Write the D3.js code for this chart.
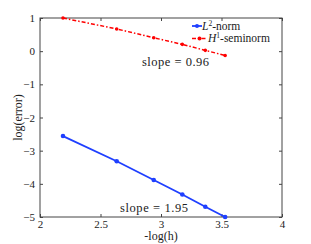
<!DOCTYPE html>
<html>
<head>
<meta charset="utf-8">
<script src="https://cdn.jsdelivr.net/npm/d3@7"></script>
<style>
  body { margin: 0; background: #fff; }
  svg text { font-family: 'Liberation Serif', 'Times New Roman', 'DejaVu Serif', serif !important; }
</style>
</head>
<body>
<div class="chart"></div>
<script>
const xTicks = [2, 2.5, 3, 3.5, 4];
const yTicks = [-5, -4, -3, -2, -1, 0, 1];
const hValues = [2.19, 2.634, 2.94, 3.176, 3.366, 3.53];
const l2Values = [-2.56, -3.32, -3.885, -4.32, -4.69, -5.0];
const h1Values = [1.0, 0.67, 0.405, 0.205, 0.024, -0.13];
const seriesNames = ['L2', 'H1'];

const width = 311, height = 244;
const plotLeft = 40, plotRight = 282, plotTop = 18, plotBottom = 217;

const svg = d3.select('div.chart').append('svg').attr('width', width).attr('height', height);

const x = d3.scaleLinear().domain([2, 4]).range([plotLeft, plotRight]);
const y = d3.scaleLinear().domain([-5, 1]).range([plotBottom, plotTop]);

const axisColor = '#444';
const tickLen = 3;

// frame
svg.append('rect')
    .attr('x', plotLeft).attr('y', plotTop)
    .attr('width', plotRight - plotLeft).attr('height', plotBottom - plotTop)
    .attr('fill', 'none').attr('stroke', axisColor).attr('stroke-width', 1);

const styleAxis = g => {
    g.attr('font-family', null);
    g.select('.domain').remove();
    g.selectAll('line').attr('stroke', axisColor);
    g.selectAll('text').attr('font-size', 11).attr('fill', '#222');
};

svg.append('g').attr('transform', `translate(0,${plotBottom})`)
    .call(d3.axisBottom(x).tickValues(xTicks).tickFormat(d3.format('')).tickSizeInner(-tickLen).tickPadding(3))
    .call(styleAxis);
svg.append('g').attr('transform', `translate(0,${plotTop})`)
    .call(d3.axisTop(x).tickValues(xTicks).tickFormat('').tickSizeInner(-tickLen))
    .call(styleAxis);
svg.append('g').attr('transform', `translate(${plotLeft},0)`)
    .call(d3.axisLeft(y).tickValues(yTicks).tickFormat(d => d < 0 ? '\u2212' + (-d) : d).tickSizeInner(-tickLen).tickPadding(5))
    .call(styleAxis);
svg.append('g').attr('transform', `translate(${plotRight},0)`)
    .call(d3.axisRight(y).tickValues(yTicks).tickFormat('').tickSizeInner(-tickLen))
    .call(styleAxis);

// labels
svg.append('text').attr('x', 161).attr('y', 240)
    .attr('text-anchor', 'middle').attr('font-size', 12).attr('fill', '#222').text('-log(h)');
svg.append('text').attr('transform', `translate(22,${(plotTop + plotBottom) / 2}) rotate(-90)`)
    .attr('text-anchor', 'middle').attr('font-size', 12).attr('fill', '#222').text('log(error)');

const l2 = hValues.map((h, i) => [h, l2Values[i]]);
const h1 = hValues.map((h, i) => [h, h1Values[i]]);
const line = d3.line().x(d => x(d[0])).y(d => y(d[1]));

svg.append('path').datum(l2).attr('d', line)
    .attr('fill', 'none').attr('stroke', '#1f3fff').attr('stroke-width', 1.8);
svg.selectAll('circle.l2').data(l2).enter().append('circle').classed('l2', true)
    .attr('cx', d => x(d[0])).attr('cy', d => y(d[1])).attr('r', 2.3).attr('fill', '#1f3fff');

svg.append('path').datum(h1).attr('d', line)
    .attr('fill', 'none').attr('stroke', '#ff0000').attr('stroke-width', 1.5)
    .attr('stroke-dasharray', '4,2,1.5,2');
svg.selectAll('circle.h1').data(h1).enter().append('circle').classed('h1', true)
    .attr('cx', d => x(d[0])).attr('cy', d => y(d[1])).attr('r', 1.8).attr('fill', '#ff0000');

// legend
const legend = svg.append('g');
const legendRows = [
    { key: seriesNames[0], color: '#1f3fff', dash: null, base: 'L', sup: '2', rest: '-norm', y: 26, x1: 192, x2: 202, tx: 202 },
    { key: seriesNames[1], color: '#ff0000', dash: '4,2,1.5,2', base: 'H', sup: '1', rest: '-seminorm', y: 38.5, x1: 192, x2: 207, tx: 208 }
];
legendRows.forEach(r => {
    legend.append('line').attr('x1', r.x1).attr('x2', r.x2).attr('y1', r.y).attr('y2', r.y)
        .attr('stroke', r.color).attr('stroke-width', r.dash ? 1.5 : 1.8)
        .attr('stroke-dasharray', r.dash);
    legend.append('circle').attr('cx', (r.x1 + r.x2) / 2).attr('cy', r.y).attr('r', 2).attr('fill', r.color);
    const t = legend.append('text').attr('x', r.tx).attr('y', r.y + 3.5).attr('font-size', 11.5).attr('fill', '#222');
    t.append('tspan').attr('font-style', 'italic').text(r.base);
    t.append('tspan').attr('font-size', 7.5).attr('dy', -4).text(r.sup);
    t.append('tspan').attr('dy', 4).text(r.rest);
});

svg.append('text').attr('x', 142).attr('y', 66).attr('font-size', 12.5).attr('fill', '#222')
    .attr('textLength', 67).attr('lengthAdjust', 'spacing').text('slope = 0.96');
svg.append('text').attr('x', 120).attr('y', 212).attr('font-size', 12.5).attr('fill', '#222')
    .attr('textLength', 68).attr('lengthAdjust', 'spacing').text('slope = 1.95');
</script>
</body>
</html>
